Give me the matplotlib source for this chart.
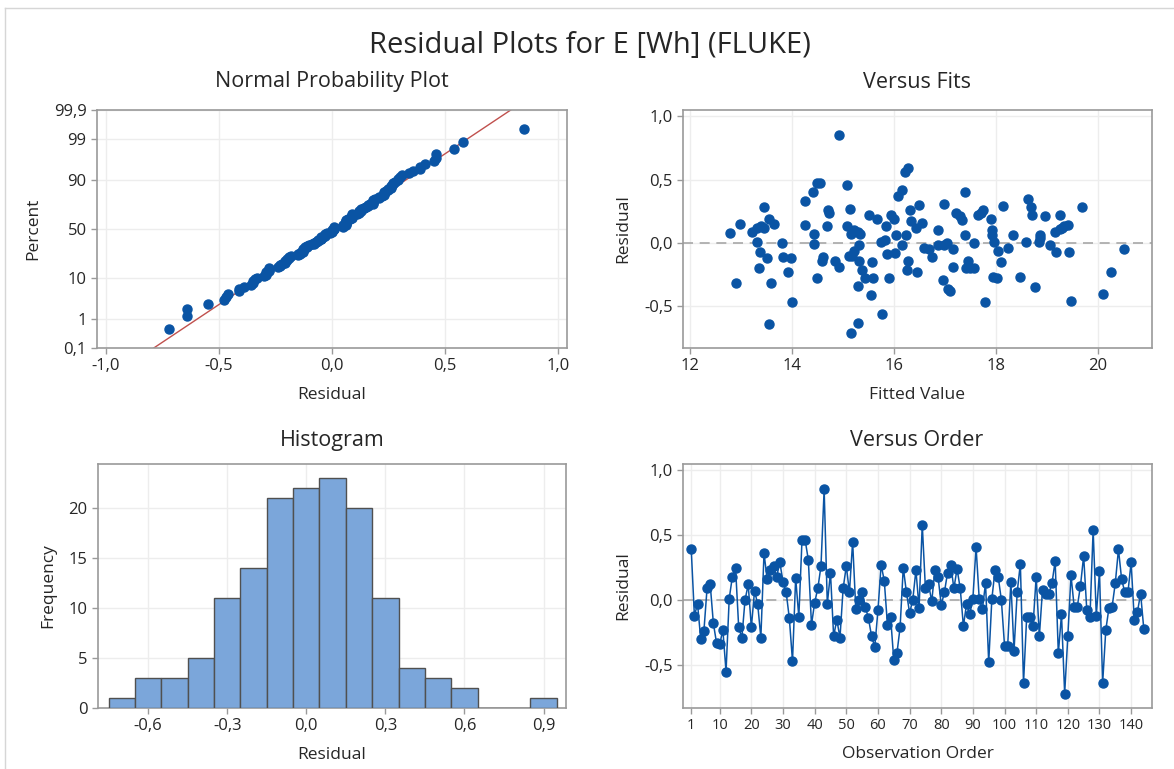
"""Minitab-style residual plots (4-in-1) for E [Wh] (FLUKE)."""

from statistics import NormalDist

import matplotlib

matplotlib.use("Agg")
import matplotlib.pyplot as plt
import numpy as np
from matplotlib.lines import Line2D
from matplotlib.ticker import FuncFormatter

plt.rcParams["font.family"] = ["Open Sans", "DejaVu Sans"]

residuals = [
    0.39, -0.12, -0.03, -0.30, -0.24, 0.09, 0.12, -0.18, -0.33, -0.34,
    -0.23, -0.55, 0.01, 0.18, 0.25, -0.21, -0.29, 0.00, 0.12, -0.21,
    0.07, -0.03, -0.29, 0.36, 0.16, 0.23, 0.26, 0.18, 0.29, 0.14,
    0.06, -0.14, -0.47, 0.17, -0.13, 0.46, 0.46, 0.31, -0.19, -0.02,
    0.09, 0.26, 0.85, -0.03, 0.21, -0.28, -0.15, -0.29, 0.09, 0.26,
    0.06, 0.45, -0.07, 0.00, 0.06, -0.05, -0.14, -0.28, -0.36, -0.08,
    0.27, 0.15, -0.19, -0.13, -0.46, -0.41, -0.21, 0.25, 0.06, -0.10,
    0.00, 0.23, -0.06, 0.58, 0.09, 0.12, -0.01, 0.23, 0.18, -0.04,
    0.06, 0.21, 0.27, 0.09, 0.24, 0.09, -0.20, -0.03, -0.11, 0.01,
    0.41, 0.01, -0.07, 0.13, -0.48, 0.01, 0.23, 0.18, 0.00, -0.35,
    -0.35, 0.14, -0.39, 0.06, 0.28, -0.64, -0.13, -0.13, -0.20, 0.18,
    -0.28, 0.08, 0.05, 0.05, 0.13, 0.30, -0.41, -0.11, -0.72, -0.28,
    0.19, -0.05, -0.05, 0.11, 0.34, -0.08, -0.13, 0.54, -0.12, 0.22,
    -0.64, -0.23, -0.06, -0.05, 0.13, 0.39, 0.16, 0.06, 0.06, 0.29,
    -0.15, -0.09, 0.05, -0.22,
]

# Versus Fits scatter (fitted value, residual).
fit_x = [
    12.79, 12.90, 12.97, 13.21, 13.31, 13.39, 13.45, 13.32, 13.37, 13.35,
    13.46, 13.50, 13.55, 13.59, 13.55, 13.65, 13.81, 13.83, 13.93, 13.98,
    14.00, 14.25, 14.26, 14.41, 14.43, 14.43, 14.49, 14.55, 14.50, 14.60,
    14.58, 14.70, 14.68, 14.72, 14.85, 14.92, 14.92, 15.09, 15.14, 15.09,
    15.15, 15.12, 15.21, 15.30, 15.34, 15.31, 15.31, 15.37, 15.43, 15.29,
    15.30, 15.15, 15.57, 15.55, 15.60, 15.52, 15.66, 15.76, 15.74, 15.85,
    15.83, 15.86, 15.90, 15.95, 16.00, 16.02, 16.05, 16.08, 16.17, 16.21,
    16.28, 16.17, 16.23, 16.28, 16.26, 16.31, 16.34, 16.43, 16.45, 16.49,
    16.55, 16.60, 15.22, 15.18, 16.70, 16.74,
    16.86, 16.87, 16.97, 16.99, 16.99, 17.05, 17.10, 17.07, 17.16, 17.16,
    17.23, 17.30, 17.33, 17.39, 17.39, 17.42, 17.45, 17.50, 17.57, 17.58,
    17.65, 17.71, 17.76, 17.79, 17.90, 17.92, 17.92, 17.94, 17.97, 18.02,
    18.05, 18.10, 18.15, 18.24, 18.34, 18.47, 18.60, 18.63, 18.69, 18.71,
    18.77, 18.87, 18.88, 18.86, 18.97, 19.06, 19.16, 19.19, 19.26, 19.26,
    19.31, 19.35, 19.42, 19.44, 19.48, 19.70, 20.10, 20.26, 20.52,
]
fit_y = [
    0.08, -0.32, 0.15, 0.09, 0.12, 0.13, 0.12, 0.01, -0.07, -0.20,
    0.28, -0.12, 0.19, -0.32, -0.64, 0.15, 0.00, -0.11, -0.23, -0.12,
    -0.47, 0.14, 0.33, 0.40, 0.07, -0.01, 0.47, 0.47, -0.28, -0.11,
    -0.14, 0.26, 0.13, 0.24, -0.14, 0.85, -0.19, 0.46, 0.27, 0.13,
    0.07, -0.10, -0.06, 0.09, 0.07, -0.02, -0.14, -0.21, -0.28, -0.34,
    -0.63, -0.71, -0.15, -0.41, -0.28, 0.22, 0.19, -0.56, 0.01, 0.13,
    0.02, -0.09, -0.28, 0.22, 0.19, -0.08, 0.06, 0.37, 0.42, 0.56,
    0.59, -0.02, 0.06, -0.14, -0.21, 0.26, 0.17, 0.12, -0.23, 0.30,
    0.16, -0.04, 0.10, -0.10, -0.05, -0.11,
    0.10, -0.02, -0.29, 0.31, -0.02, 0.00, -0.38, -0.36, -0.05, -0.19,
    0.24, 0.21, 0.18, 0.40, 0.06, -0.20, -0.14, -0.20, -0.20, 0.00,
    0.22, 0.24, 0.26, -0.47, 0.19, 0.10, 0.06, -0.27, 0.01, -0.28,
    -0.06, -0.15, 0.29, -0.04, 0.06, -0.27, 0.01, 0.35, 0.28, 0.22,
    -0.35, 0.04, 0.06, 0.01, 0.21, -0.02, 0.09, -0.07, 0.22, 0.11,
    0.12, 0.13, 0.14, -0.07, -0.46, 0.28, -0.40, -0.23, -0.05,
]

# Histogram bins (centres) and counts.
hist_centres = [-0.7, -0.6, -0.5, -0.4, -0.3, -0.2, -0.1, 0.0, 0.1,
                0.2, 0.3, 0.4, 0.5, 0.6, 0.7, 0.8, 0.9]
hist_counts = [1, 3, 3, 5, 11, 14, 21, 22, 23, 20, 11, 4, 3, 2, 0, 0, 1]

npp_ticks = [0.1, 1, 10, 50, 90, 99, 99.9]
npp_tick_labels = ["0,1", "1", "10", "50", "90", "99", "99,9"]
order_ticks = [1, 10, 20, 30, 40, 50, 60, 70, 80, 90, 100, 110, 120, 130, 140]

BLUE = "#0A54A4"
BAR = "#7BA6DA"
BAR_EDGE = "#505050"
RED = "#C0504D"
SPINE = "#9A9A9A"
GRID = "#EDEDED"
TEXT = "#262626"

W, H = 1174, 769
fig = plt.figure(figsize=(W / 100, H / 100), dpi=100)


def px_axes(left, top, right, bottom):
    return fig.add_axes([left / W, 1 - bottom / H, (right - left) / W, (bottom - top) / H])


def comma(v, _pos=None):
    return f"{v:.1f}".replace(".", ",")


def style(ax):
    for s in ax.spines.values():
        s.set_color(SPINE)
        s.set_linewidth(1.2)
    ax.tick_params(colors=SPINE, labelcolor=TEXT, labelsize=12, length=4, width=1)
    ax.grid(True, color=GRID, linewidth=1)
    ax.set_axisbelow(True)


LABEL = dict(fontsize=12.5, color=TEXT, labelpad=9)
nd = NormalDist()

# Normal probability plot
ax1 = px_axes(97, 110, 567, 348)
style(ax1)
res = np.sort(np.array(residuals))
n = len(res)
pct = (np.arange(1, n + 1) - 0.3) / (n + 0.4)
z = np.array([nd.inv_cdf(p) for p in pct])
zlim = (nd.inv_cdf(0.001), nd.inv_cdf(0.999))
mu, sd = res.mean(), res.std()
zl = np.linspace(zlim[0], zlim[1], 50)
ax1.plot(mu + sd * zl, zl, color=RED, linewidth=1, zorder=2)
ax1.plot(res, z, "o", color=BLUE, markersize=6.5, zorder=3)
ax1.set_xlim(-1.04, 1.04)
ax1.set_ylim(*zlim)
ax1.set_xticks([-1.0, -0.5, 0.0, 0.5, 1.0])
ax1.xaxis.set_major_formatter(FuncFormatter(comma))
ax1.set_yticks([nd.inv_cdf(p / 100) for p in npp_ticks])
ax1.set_yticklabels(npp_tick_labels)
ax1.set_xlabel("Residual", **LABEL)
ax1.set_ylabel("Percent", **LABEL)

# Versus fits
ax2 = px_axes(683, 110, 1152, 348)
style(ax2)
ax2.axhline(0, color="#A8A8A8", linewidth=1.2, dashes=(6, 4), zorder=1)
ax2.plot(fit_x, fit_y, "o", color=BLUE, markersize=6.5, zorder=3)
ax2.set_xlim(11.86, 21.07)
ax2.set_ylim(-0.83, 1.05)
ax2.set_xticks([12, 14, 16, 18, 20])
ax2.set_yticks([-0.5, 0.0, 0.5, 1.0])
ax2.yaxis.set_major_formatter(FuncFormatter(comma))
ax2.set_xlabel("Fitted Value", **LABEL)
ax2.set_ylabel("Residual", **LABEL)

# Histogram
ax3 = px_axes(98, 464, 566, 708)
style(ax3)
ax3.bar(hist_centres, hist_counts, width=0.1, color=BAR, edgecolor=BAR_EDGE,
        linewidth=1, zorder=3)
ax3.set_xlim(-0.79, 0.985)
ax3.set_ylim(0, 24.4)
ax3.set_xticks([-0.6, -0.3, 0.0, 0.3, 0.6, 0.9])
ax3.xaxis.set_major_formatter(FuncFormatter(comma))
ax3.set_yticks([0, 5, 10, 15, 20])
ax3.set_xlabel("Residual", **LABEL)
ax3.set_ylabel("Frequency", **LABEL)

# Versus order
ax4 = px_axes(683, 464, 1152, 708)
style(ax4)
order = np.arange(1, len(residuals) + 1)
ax4.axhline(0, color="#A8A8A8", linewidth=1.2, dashes=(6, 4), zorder=1)
ax4.plot(order, residuals, "-o", color=BLUE, linewidth=1.1, markersize=6.5, zorder=3)
ax4.set_xlim(-1.6, 146.6)
ax4.set_ylim(-0.83, 1.046)
ax4.set_xticks(order_ticks)
ax4.set_yticks([-0.5, 0.0, 0.5, 1.0])
ax4.yaxis.set_major_formatter(FuncFormatter(comma))
ax4.tick_params(axis="x", labelsize=10.5)
ax4.set_xlabel("Observation Order", **LABEL)
ax4.set_ylabel("Residual", **LABEL)

# Titles
fig.text(590 / W, 1 - 45 / H, "Residual Plots for E [Wh] (FLUKE)", ha="center",
         va="center", fontsize=21, color=TEXT)
for x, y, t in [(332, 82, "Normal Probability Plot"), (917, 82, "Versus Fits"),
                (332, 440, "Histogram"), (917, 440, "Versus Order")]:
    fig.text(x / W, 1 - y / H, t, ha="center", va="center", fontsize=15.5, color=TEXT)

# Outer window frame
fig.add_artist(Line2D([5 / W, 1], [1 - 8 / H, 1 - 8 / H], color="#D6D6D6", linewidth=1))
fig.add_artist(Line2D([5 / W, 5 / W], [0, 1 - 8 / H], color="#D6D6D6", linewidth=1))

fig.savefig("out.png", dpi=100)
